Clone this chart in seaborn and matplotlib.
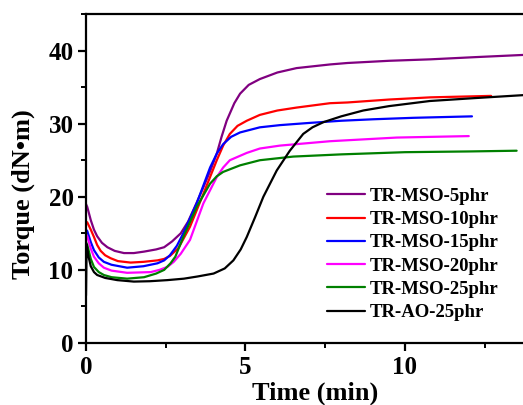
import matplotlib
matplotlib.use("Agg")
import matplotlib.pyplot as plt
from matplotlib.ticker import MultipleLocator
import seaborn as sns
import pandas as pd

# Torque curves (time in min, torque in dN·m)
t_mso5 = [0, 0.04, 0.15, 0.25, 0.35, 0.5, 0.67, 0.9, 1.19, 1.5, 1.82, 2.2, 2.45, 2.7, 2.97, 3.2, 3.45, 3.68, 3.9, 4.1, 4.25, 4.41, 4.65, 4.83, 5.1, 5.45, 6.0, 6.6, 7.65, 8.2, 9.5, 10.8, 12.2, 13.7]
y_mso5 = [19.0, 18.6, 16.8, 15.5, 14.6, 13.7, 13.1, 12.6, 12.3, 12.3, 12.5, 12.8, 13.1, 13.9, 15.0, 16.6, 19.0, 21.3, 23.6, 25.9, 28.2, 30.4, 32.8, 34.1, 35.3, 36.1, 37.0, 37.6, 38.1, 38.3, 38.6, 38.8, 39.1, 39.4]

t_mso10 = [0, 0.04, 0.15, 0.25, 0.35, 0.46, 0.6, 0.77, 1.0, 1.4, 1.8, 2.24, 2.45, 2.63, 2.9, 3.26, 3.68, 4.1, 4.3, 4.51, 4.75, 5.04, 5.45, 6.0, 6.6, 7.65, 8.2, 9.5, 10.8, 12.7]
y_mso10 = [16.6, 16.5, 15.5, 14.5, 13.4, 12.6, 12.0, 11.6, 11.2, 11.0, 11.1, 11.3, 11.5, 11.9, 13.0, 15.9, 20.4, 25.0, 27.0, 28.6, 29.7, 30.4, 31.2, 31.8, 32.2, 32.8, 32.9, 33.3, 33.6, 33.8]

t_mso15 = [0, 0.04, 0.15, 0.25, 0.4, 0.56, 0.8, 1.29, 1.8, 2.24, 2.45, 2.63, 2.85, 3.05, 3.47, 3.89, 4.1, 4.3, 4.55, 4.83, 5.45, 6.08, 7.0, 8.0, 9.0, 10.26, 12.1]
y_mso15 = [15.5, 15.3, 13.8, 12.7, 11.7, 11.1, 10.7, 10.3, 10.5, 10.9, 11.3, 12.0, 13.3, 15.0, 19.1, 24.0, 25.9, 27.2, 28.2, 28.8, 29.5, 29.8, 30.1, 30.4, 30.6, 30.8, 31.0]

t_mso20 = [0, 0.04, 0.15, 0.25, 0.4, 0.56, 0.8, 1.29, 2.03, 2.3, 2.55, 2.75, 2.97, 3.26, 3.68, 4.1, 4.3, 4.51, 5.04, 5.45, 6.08, 7.65, 9.74, 12.0]
y_mso20 = [14.8, 14.6, 12.9, 11.8, 10.9, 10.3, 9.9, 9.6, 9.7, 10.0, 10.4, 11.1, 12.2, 14.1, 19.1, 22.7, 24.0, 25.0, 26.0, 26.6, 27.0, 27.6, 28.1, 28.3]

t_mso25 = [0, 0.04, 0.15, 0.25, 0.4, 0.56, 0.8, 1.29, 1.82, 2.2, 2.45, 2.65, 2.8, 3.05, 3.47, 3.89, 4.1, 4.3, 4.83, 5.45, 6.5, 8.0, 10.0, 12.0, 13.5]
y_mso25 = [13.8, 13.4, 11.5, 10.4, 9.7, 9.3, 9.0, 8.8, 9.0, 9.5, 10.0, 10.9, 11.8, 14.5, 18.6, 21.8, 22.8, 23.4, 24.3, 25.0, 25.5, 25.8, 26.1, 26.2, 26.3]

t_ao25 = [0, 0.02, 0.08, 0.15, 0.25, 0.35, 0.6, 0.98, 1.5, 2.0, 2.55, 3.07, 3.5, 4.0, 4.35, 4.62, 4.85, 5.04, 5.3, 5.56, 5.98, 6.39, 6.81, 7.1, 7.44, 8.0, 8.69, 9.5, 10.78, 12.2, 13.7]
y_ao25 = [6.5, 13.5, 11.8, 10.5, 9.7, 9.3, 8.9, 8.6, 8.4, 8.45, 8.6, 8.8, 9.1, 9.5, 10.2, 11.3, 12.8, 14.5, 17.2, 20.0, 23.6, 26.3, 28.6, 29.5, 30.2, 31.0, 31.8, 32.4, 33.1, 33.5, 33.9]

labels = ["TR-MSO-5phr", "TR-MSO-10phr", "TR-MSO-15phr",
          "TR-MSO-20phr", "TR-MSO-25phr", "TR-AO-25phr"]
colors = ["#800080", "#ff0000", "#0000ff", "#ff00ff", "#008000", "#000000"]
series = [(t_mso5, y_mso5), (t_mso10, y_mso10), (t_mso15, y_mso15),
          (t_mso20, y_mso20), (t_mso25, y_mso25), (t_ao25, y_ao25)]

frames = []
for name, (t, y) in zip(labels, series):
    frames.append(pd.DataFrame({"time": t, "torque": y, "sample": name}))
df = pd.concat(frames, ignore_index=True)

sns.set_theme(style="ticks")
plt.rcParams["font.family"] = ["Liberation Serif", "DejaVu Serif"]
plt.rcParams["font.weight"] = "bold"
plt.rcParams["text.color"] = "black"
plt.rcParams["axes.labelcolor"] = "black"
plt.rcParams["xtick.color"] = "black"
plt.rcParams["ytick.color"] = "black"

fig = plt.figure(figsize=(5.23, 4.05), dpi=100)
ax = fig.add_axes([86 / 523, 62 / 405, 437 / 523, 329 / 405])

sns.lineplot(data=df, x="time", y="torque", hue="sample", hue_order=labels,
             palette=dict(zip(labels, colors)), estimator=None, sort=False,
             linewidth=1.6, ax=ax)

ax.set_xlim(0, 13.7)
ax.set_ylim(0, 45)
ax.xaxis.set_major_locator(MultipleLocator(5))
ax.xaxis.set_minor_locator(MultipleLocator(2.5))
ax.yaxis.set_major_locator(MultipleLocator(10))
ax.yaxis.set_minor_locator(MultipleLocator(5))

for side in ["left", "bottom", "top"]:
    ax.spines[side].set_linewidth(1.6)
    ax.spines[side].set_color("black")
ax.spines["right"].set_visible(False)

ax.tick_params(axis="both", which="major", direction="out", length=6, width=1.6,
               labelsize=18, colors="black", labelcolor="black", pad=3)
ax.tick_params(axis="both", which="minor", direction="out", length=3.5, width=1.4,
               colors="black")
ax.tick_params(top=False, right=False, which="both")
for lab in ax.get_xticklabels() + ax.get_yticklabels():
    lab.set_fontweight("bold")

ax.set_xlabel("Time (min)", fontsize=19, fontweight="bold", color="black")
ax.set_ylabel("Torque (dN•m)", fontsize=19, fontweight="bold", color="black")
ax.xaxis.set_label_coords(0.524, -0.118)
ax.yaxis.set_label_coords(-0.117, 0.453)

handles, _ = ax.get_legend_handles_labels()
ax.legend(handles=handles, labels=labels, loc="center left",
          bbox_to_anchor=(327 / 523, 150.5 / 405), bbox_transform=fig.transFigure,
          frameon=False, borderpad=0, borderaxespad=0, handlelength=2.0,
          handletextpad=0.3, labelspacing=0.33,
          prop={"family": "Liberation Serif", "weight": "bold", "size": 13.5})

fig.savefig("out.png", dpi=100)
